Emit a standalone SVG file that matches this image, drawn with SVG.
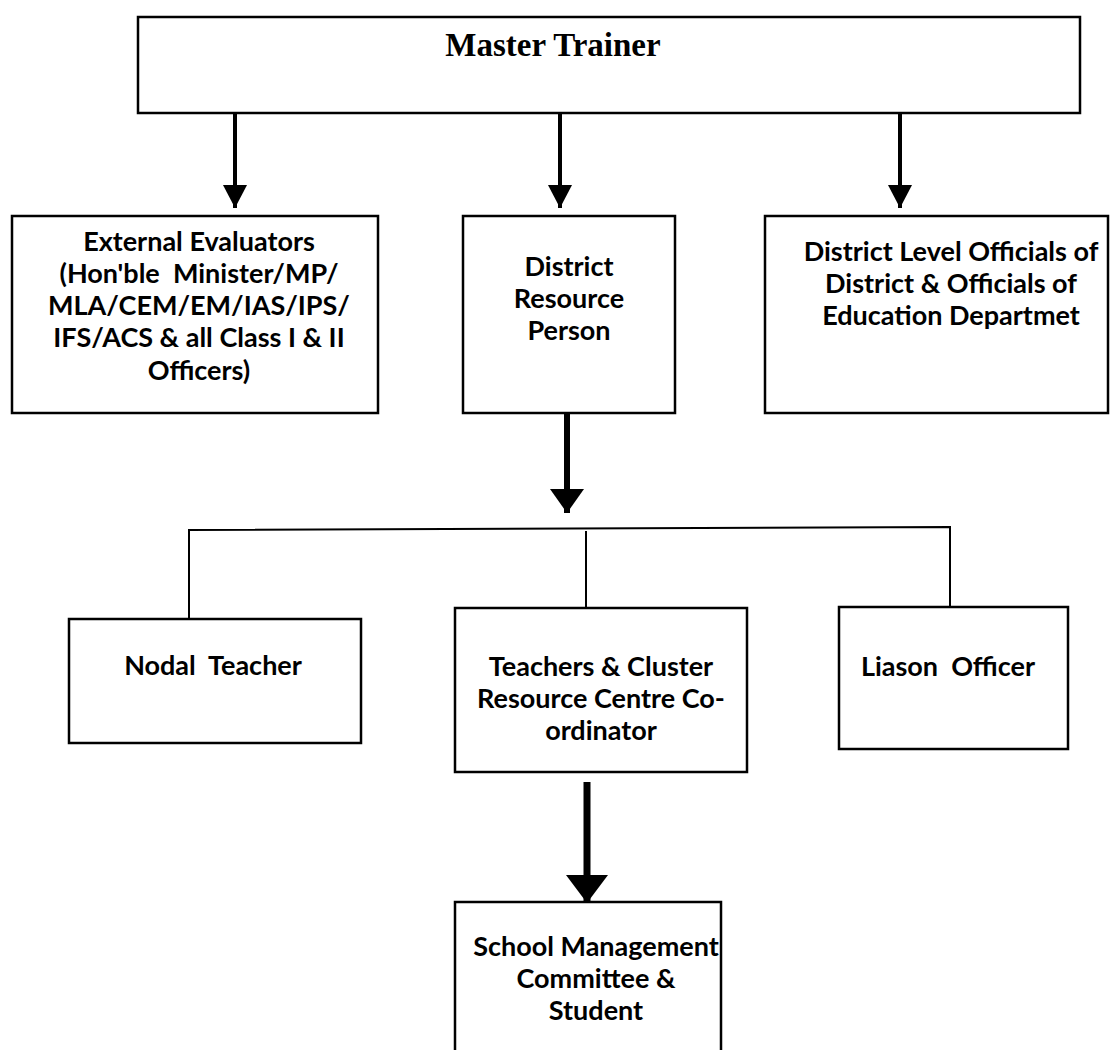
<svg xmlns="http://www.w3.org/2000/svg" width="1110" height="1050" viewBox="0 0 1110 1050">
<style>
.box{fill:#fff;stroke:#000;stroke-width:2.5}
.t{font-family:Lato,"Open Sans",sans-serif;font-weight:bold;font-size:27px;fill:#000;text-anchor:middle}
.title{font-family:"Liberation Serif","Times New Roman",serif;font-weight:bold;font-size:33px;fill:#000;text-anchor:middle}
.ln{fill:none;stroke:#000}
</style>
<defs>
<marker id="ahS" markerUnits="userSpaceOnUse" viewBox="0 0 23 24" markerWidth="23" markerHeight="24" refX="23" refY="12" orient="auto"><path d="M0,0 L23,12 L0,24 z" fill="#000"/></marker>
<marker id="ahM" markerUnits="userSpaceOnUse" viewBox="0 0 24 34" markerWidth="24" markerHeight="34" refX="24" refY="17" orient="auto"><path d="M0,0 L24,17 L0,34 z" fill="#000"/></marker>
<marker id="ahL" markerUnits="userSpaceOnUse" viewBox="0 0 28 42" markerWidth="28" markerHeight="42" refX="28" refY="21" orient="auto"><path d="M0,0 L28,21 L0,42 z" fill="#000"/></marker>
</defs>
<rect width="1110" height="1050" fill="#fff"/>
<g id="connectors">
<path class="ln" stroke-width="4" d="M235,113 V208" marker-end="url(#ahS)"/>
<path class="ln" stroke-width="4" d="M560,113 V208" marker-end="url(#ahS)"/>
<path class="ln" stroke-width="4" d="M900,113 V208" marker-end="url(#ahS)"/>
<path class="ln" stroke-width="6" d="M567,413 V513" marker-end="url(#ahM)"/>
<path class="ln" stroke-width="2" d="M189,619 V530 L950,527 V607"/>
<path class="ln" stroke-width="2" d="M586,531 V608"/>
<path class="ln" stroke-width="7" d="M587,782 V903" marker-end="url(#ahL)"/>
</g>
<g id="master-trainer">
<rect class="box" x="138" y="17" width="942" height="96"/>
<text class="title" x="553" y="56">Master Trainer</text>
</g>
<g id="external-evaluators">
<rect class="box" x="12" y="216" width="366" height="197"/>
<text class="t" x="199" y="251">External Evaluators</text>
<text class="t" x="199" y="283" xml:space="preserve">(Hon'ble  Minister/MP/</text>
<text class="t" x="199" y="315">MLA/CEM/EM/IAS/IPS/</text>
<text class="t" x="199" y="347">IFS/ACS &amp; all Class I &amp; II</text>
<text class="t" x="199" y="380">Officers)</text>
</g>
<g id="district-resource-person">
<rect class="box" x="463" y="216" width="212" height="197"/>
<text class="t" x="569" y="276">District</text>
<text class="t" x="569" y="308">Resource</text>
<text class="t" x="569" y="340">Person</text>
</g>
<g id="district-level-officials">
<rect class="box" x="765" y="216" width="343" height="197"/>
<text class="t" x="951" y="261">District Level Officials of</text>
<text class="t" x="951" y="293">District &amp; Officials of</text>
<text class="t" x="951" y="325">Education Departmet</text>
</g>
<g id="nodal-teacher">
<rect class="box" x="69" y="619" width="292" height="124"/>
<text class="t" x="213" y="675" xml:space="preserve">Nodal  Teacher</text>
</g>
<g id="teachers-crc">
<rect class="box" x="455" y="608" width="292" height="164"/>
<text class="t" x="601" y="676">Teachers &amp; Cluster</text>
<text class="t" x="601" y="708">Resource Centre Co-</text>
<text class="t" x="601" y="740">ordinator</text>
</g>
<g id="liason-officer">
<rect class="box" x="839" y="607" width="229" height="142"/>
<text class="t" x="948" y="676" xml:space="preserve">Liason  Officer</text>
</g>
<g id="smc-student">
<rect class="box" x="455" y="902" width="266" height="160"/>
<text class="t" x="596" y="956">School Management</text>
<text class="t" x="596" y="988">Committee &amp;</text>
<text class="t" x="596" y="1020">Student</text>
</g>
</svg>
